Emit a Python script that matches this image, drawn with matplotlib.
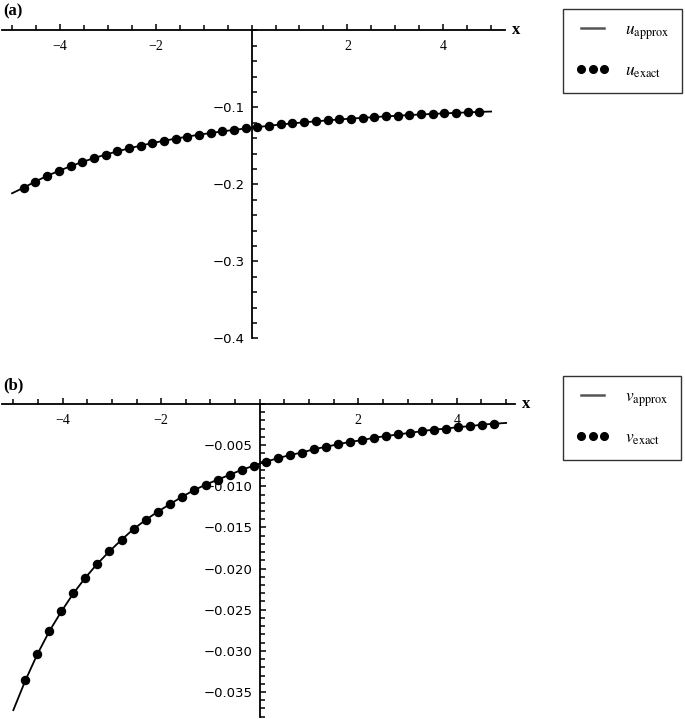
import matplotlib
matplotlib.use("Agg")
import matplotlib.pyplot as plt
from matplotlib.ticker import MultipleLocator, FixedLocator
from matplotlib.lines import Line2D

# sample points
x_pts = [-4.756, -4.512, -4.268, -4.024, -3.780, -3.537, -3.293, -3.049, -2.805, -2.561,
         -2.317, -2.073, -1.829, -1.585, -1.341, -1.098, -0.854, -0.610, -0.366, -0.122,
         0.122, 0.366, 0.610, 0.854, 1.098, 1.341, 1.585, 1.829, 2.073, 2.317,
         2.561, 2.805, 3.049, 3.293, 3.537, 3.780, 4.024, 4.268, 4.512, 4.756]

u_exact = [-0.2043, -0.1963, -0.1890, -0.1825, -0.1765, -0.1710, -0.1660, -0.1614, -0.1572, -0.1533,
           -0.1497, -0.1464, -0.1434, -0.1406, -0.1380, -0.1355, -0.1333, -0.1312, -0.1292, -0.1274,
           -0.1257, -0.1238, -0.1222, -0.1208, -0.1194, -0.1181, -0.1169, -0.1157, -0.1146, -0.1136,
           -0.1126, -0.1117, -0.1108, -0.1100, -0.1092, -0.1085, -0.1078, -0.1071, -0.1065, -0.1059]

v_exact = [-0.0336, -0.0304, -0.0276, -0.0252, -0.0230, -0.0211, -0.0194, -0.0179, -0.0165, -0.0152,
           -0.0141, -0.0131, -0.0122, -0.0113, -0.0105, -0.0098, -0.0092, -0.0086, -0.0080, -0.0075,
           -0.0070, -0.0066, -0.0062, -0.0059, -0.0055, -0.0052, -0.0049, -0.0046, -0.0044, -0.0041,
           -0.0039, -0.0037, -0.0035, -0.0033, -0.0031, -0.0030, -0.0028, -0.0027, -0.0025, -0.0024]

# approximate solution curves: same points plus the ends at x = -5 and x = 5
x_line = [-5.0] + x_pts + [5.0]
u_approx = [-0.2116] + u_exact + [-0.1054]
v_approx = [-0.0372] + v_exact + [-0.0023]

x_major = [-4, -2, 2, 4]

W, H = 685, 719
fig = plt.figure(figsize=(W / 100, H / 100), dpi=100)
plt.rcParams['mathtext.fontset'] = 'stix'


def box(l, t, r, b):
    # pixel box -> figure rect
    return [l / W, 1 - b / H, (r - l) / W, (b - t) / H]


def panel(rect, xlim, ylim, yminor, ymajor, yfmt, xs, ys, yl, name, lab, leg_top):
    ax = fig.add_axes(rect)
    ax.set_xlim(*xlim)
    ax.set_ylim(*ylim)
    ax.patch.set_alpha(0)
    for s in ['top', 'right']:
        ax.spines[s].set_visible(False)
    ax.spines['left'].set_position(('data', 0))
    ax.spines['bottom'].set_position(('data', 0))
    ax.spines['left'].set_linewidth(1.3)
    ax.spines['bottom'].set_linewidth(1.3)

    ax.xaxis.set_major_locator(FixedLocator(x_major))
    ax.xaxis.set_minor_locator(MultipleLocator(0.5))
    ax.set_xticklabels([str(v).replace('-', '\u2212') for v in x_major],
                       fontfamily='Liberation Serif', fontsize=10)
    ax.yaxis.set_major_locator(FixedLocator(ymajor))
    ax.yaxis.set_minor_locator(MultipleLocator(yminor))
    ax.set_yticklabels([yfmt.format(v).replace('-', '\u2212') for v in ymajor],
                       fontfamily='DejaVu Sans', fontsize=9.5)
    ax.tick_params(axis='x', which='both', direction='in', pad=7, width=1.1)
    ax.tick_params(axis='y', which='both', direction='in', pad=5, width=1.1)
    ax.tick_params(which='major', length=4.5)
    ax.tick_params(which='minor', length=3.5)

    ax.plot(x_line, yl, color='black', lw=1.3)
    ax.plot(xs, ys, 'o', color='black', ms=5.8)

    ax.text(xlim[1] + 0.14, 0, 'x', fontfamily='Liberation Serif', fontsize=12,
            fontweight='bold', va='center', ha='left')
    fig.text(3 / W, rect[1] + rect[3] + 11 / H, name, fontfamily='Liberation Serif',
             fontsize=12, fontweight='bold', va='bottom', ha='left')

    h1 = Line2D([], [], color='#555555', lw=1.8)
    h2 = Line2D([], [], ls='none', marker='o', color='black', ms=5.5)
    leg = fig.legend([h1, h2], lab, loc='upper left',
                     bbox_to_anchor=(563 / W, 1 - leg_top / H), borderaxespad=0,
                     frameon=True, fancybox=False, edgecolor='black', numpoints=3,
                     handlelength=1.9, handletextpad=0.9, labelspacing=1.25,
                     borderpad=0.75, prop={'family': 'Liberation Serif', 'size': 12.5})
    leg.get_frame().set_linewidth(1.0)
    return ax


panel(box(2, 30.4, 505, 338.3), (-5.21, 5.29), (-0.4, 0), 0.02,
      [-0.1, -0.2, -0.3, -0.4], '{:.1f}', x_pts, u_exact, u_approx,
      '(a)', [r'$u_{\rm approx}$', r'$u_{\rm exact}$'], 9)

panel(box(2, 404, 515, 716.7), (-5.23, 5.18), (-0.038, 0), 0.001,
      [-0.005, -0.010, -0.015, -0.020, -0.025, -0.030, -0.035], '{:.3f}',
      x_pts, v_exact, v_approx,
      '(b)', [r'$v_{\rm approx}$', r'$v_{\rm exact}$'], 376)

fig.savefig('out.png', dpi=100)
